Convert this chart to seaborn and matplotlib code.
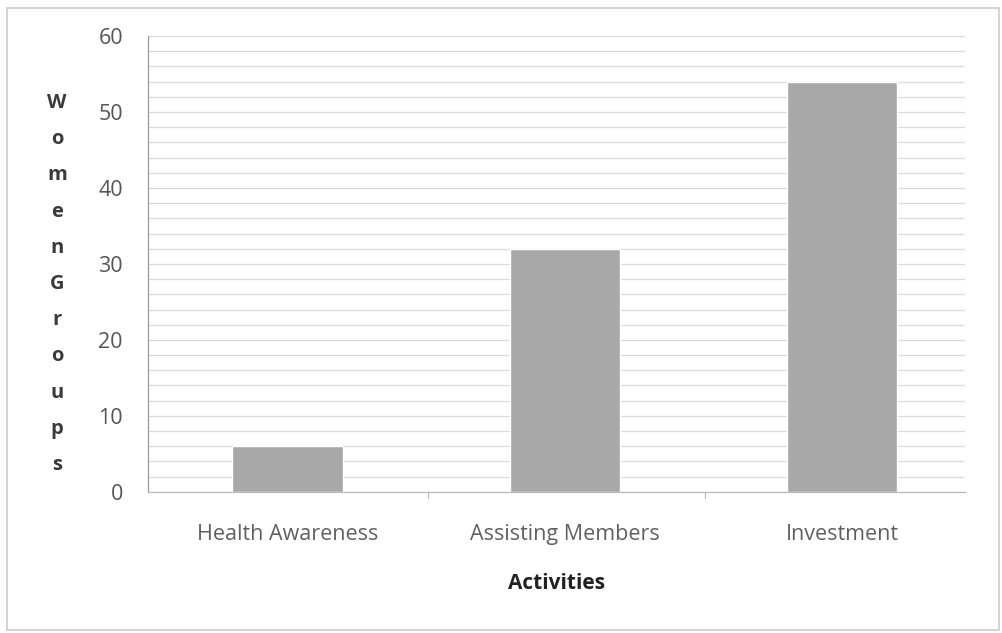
import numpy as np
import pandas as pd
import matplotlib
matplotlib.use("Agg")
import matplotlib.pyplot as plt
import seaborn as sns
from matplotlib.patches import Rectangle

activities = ["Health Awareness", "Assisting Members", "Investment"]
women_groups = [6, 32, 54]
y_ticks = [0, 10, 20, 30, 40, 50, 60]
y_label = "WomenGroups"

sns.set_theme(style="white")
plt.rcParams['font.family'] = ['Open Sans', 'DejaVu Sans']

df = pd.DataFrame({"activity": activities, "groups": women_groups})

fig = plt.figure(figsize=(10.02, 6.33), dpi=100)
ax = fig.add_axes([0.1477, 0.223, 0.8153, 0.720])

# minor gridlines every 2 units
for v in np.arange(0, 61, 2):
    ax.axhline(v, color="#dcdcdc", lw=0.9, zorder=0)

sns.barplot(data=df, x="activity", y="groups", color="#a8a8a8", width=0.4,
            saturation=1, ax=ax, zorder=2)

ax.set_ylim(0, 60)
ax.set_xlim(-0.505, 2.444)
ax.set_yticks(y_ticks)
ax.set_yticklabels([str(t) for t in y_ticks], fontsize=15.5, color="#555555")
ax.tick_params(axis="y", length=6, color="#999999", direction="out", pad=12)
ax.tick_params(axis="x", length=0, pad=23, labelcolor="#606060")
for lbl in ax.get_xticklabels():
    lbl.set_fontsize(15.5)

# category boundary ticks on x axis
for b in [0.505, 1.505]:
    ax.plot([b, b], [0, -0.8], color="#bbbbbb", lw=0.9, clip_on=False)

for s in ["top", "right"]:
    ax.spines[s].set_visible(False)
ax.spines["left"].set_color("#999999")
ax.spines["bottom"].set_color("#bbbbbb")
ax.spines["left"].set_linewidth(0.9)
ax.spines["bottom"].set_linewidth(0.9)

ax.set_xlabel("Activities", fontsize=15, fontweight="bold", color="#222222", labelpad=20)
ax.set_ylabel("")

# stacked letters of y label
for i, ch in enumerate(y_label):
    y = 1 - (103 + i * 36.2) / 633
    fig.text(57 / 1002, y, ch, ha="center", va="center", fontsize=14.5,
             fontweight="bold", color="#3a3a3a")

fig.patches.append(Rectangle((7 / 1002, 3 / 633), 992 / 1002, 622 / 633,
                             transform=fig.transFigure, fill=False,
                             edgecolor="#cccccc", lw=1.2))

fig.savefig("out.png", dpi=100)
